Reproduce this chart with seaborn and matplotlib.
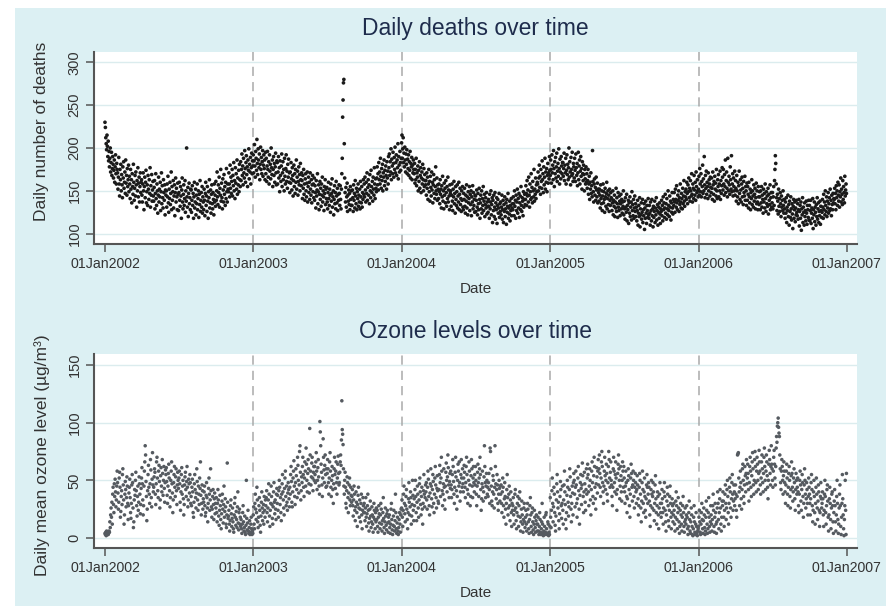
import numpy as np
import pandas as pd
import matplotlib
matplotlib.use("Agg")
import matplotlib.pyplot as plt
import seaborn as sns
from matplotlib.patches import Rectangle

# ---------------- data (one list per year, one row per month) ----------------
deaths_2002 = [
    230,224,212,205,198,215,202,190,208,185,196,178,188,200,172,183,195,168,176,190,181,165,174,186,160,178,192,170,158,182,175,
    171,152,166,189,158,144,175,163,181,150,169,157,142,178,165,184,153,160,172,147,186,159,168,145,176,155,163,180,
    149,167,158,141,175,152,163,136,170,155,146,181,160,139,153,168,144,172,157,131,162,150,177,143,159,166,137,155,171,148,160,
    163,145,137,158,171,150,128,155,166,142,160,174,136,149,157,133,168,152,140,163,147,177,131,156,145,169,138,151,161,144,
    138,154,162,129,147,170,141,133,158,150,124,145,166,137,152,143,160,127,149,171,135,156,142,130,163,148,139,157,122,151,145,
    150,131,158,143,167,136,125,152,141,160,134,147,172,128,155,139,149,162,130,144,157,121,148,165,137,153,143,128,159,146,
    127,148,160,139,132,155,144,118,151,165,137,129,146,157,133,141,162,125,150,138,200,143,131,154,120,147,159,135,142,128,152,
    151,125,139,156,133,147,118,143,160,130,137,152,122,145,135,158,128,141,150,119,146,134,162,126,139,148,131,155,124,143,137,
    128,152,139,121,147,160,133,144,126,155,138,118,149,142,163,130,136,151,124,146,157,135,129,148,140,122,158,137,145,132,
    161,139,150,172,143,134,157,148,166,131,153,145,175,138,159,142,129,164,151,137,169,146,155,133,160,141,176,149,137,158,152,
    149,171,158,143,180,153,166,147,161,175,144,168,156,183,150,162,141,177,159,170,152,186,146,165,157,174,149,181,163,155,
    184,162,175,193,168,179,157,188,171,165,197,176,160,183,191,169,178,155,186,174,199,164,181,172,189,158,177,194,170,185,179,
]
deaths_2003 = [
    192,171,185,204,179,166,196,188,174,210,182,169,199,186,177,193,163,181,201,175,189,170,184,197,167,180,192,176,186,163,195,
    170,188,161,179,196,175,166,184,158,192,173,181,164,200,177,169,186,155,175,190,168,182,160,178,194,171,157,185,
    183,158,172,190,165,177,149,185,168,161,179,193,155,171,184,163,175,150,188,167,158,176,192,161,173,153,181,166,187,160,171,
    148,172,159,183,164,151,177,168,144,162,180,155,170,147,175,160,186,152,166,173,145,161,178,157,169,150,182,163,156,171,
    162,141,168,153,175,146,158,139,164,170,150,143,159,172,137,155,166,148,160,140,171,152,145,163,136,157,168,149,158,142,165,
    139,156,148,130,162,144,151,170,135,149,157,128,146,161,140,153,132,158,145,166,137,150,143,127,155,147,163,134,152,141,
    154,137,129,148,160,141,133,152,145,125,158,138,147,164,131,143,150,122,140,156,135,148,129,161,144,136,153,127,146,139,157,
    147,133,156,140,129,152,170,188,236,256,276,280,205,165,148,137,154,131,143,159,126,145,138,151,134,147,128,155,140,133,150,
    133,151,142,126,157,139,147,130,162,144,135,153,128,149,141,158,132,145,137,152,129,161,143,136,155,131,148,140,163,146,
    158,143,166,151,137,160,147,171,139,154,163,145,157,135,169,150,142,174,155,148,161,138,166,152,145,177,158,141,164,153,149,
    165,178,157,170,151,183,163,172,158,188,167,153,176,162,181,150,171,166,186,156,174,161,179,168,152,184,165,173,158,190,
    177,193,168,184,172,199,163,187,179,170,195,182,166,189,175,201,171,183,192,168,186,177,205,164,190,180,172,196,183,174,188,
]
deaths_2004 = [
    206,215,188,199,212,183,194,178,201,186,172,193,181,198,170,187,176,192,168,184,174,196,165,182,178,189,163,180,171,186,175,
    170,182,159,175,163,188,156,171,166,179,150,174,161,184,153,168,177,148,165,172,158,181,163,150,176,155,169,162,157,
    162,145,171,153,166,140,158,175,149,161,138,167,154,144,172,151,160,136,157,169,147,163,141,155,178,150,146,165,139,157,152,
    141,158,149,135,163,146,152,130,156,143,167,138,150,129,159,145,153,136,162,148,132,155,141,166,137,151,144,128,157,147,
    150,132,145,158,138,127,152,143,161,135,147,124,155,140,133,149,157,130,144,137,160,128,146,153,134,141,126,150,139,155,131,
    128,147,140,153,132,124,145,138,157,130,143,122,149,136,141,155,127,146,134,150,121,143,137,156,129,148,133,140,125,145,
    144,126,139,151,131,122,147,135,128,153,140,118,136,145,129,150,124,141,133,155,127,138,146,120,134,142,130,148,123,137,132,
    125,140,132,118,146,129,137,150,122,134,142,113,139,127,145,120,131,148,117,136,128,142,112,133,140,124,130,147,119,135,126,
    137,122,131,145,117,128,139,113,134,126,143,120,129,136,111,140,125,132,147,118,130,123,138,115,133,127,141,121,130,135,
    128,143,135,121,150,132,139,118,145,127,137,152,124,141,130,147,119,136,144,128,155,133,126,142,138,121,149,131,140,146,134,
    140,156,147,133,162,144,151,137,166,145,131,158,149,140,170,142,154,136,161,150,143,175,138,152,146,165,141,157,149,160,
    158,172,150,165,180,154,167,146,175,161,153,185,163,170,148,178,157,166,188,152,172,160,176,149,168,182,159,171,164,190,174,
]
deaths_2005 = [
    168,186,175,159,192,171,180,163,197,176,155,184,170,189,165,178,194,161,173,182,167,199,176,158,187,172,164,190,179,170,183,
    183,167,176,194,162,180,171,188,158,174,192,169,181,163,177,200,166,184,172,157,189,175,168,195,170,161,182,178,
    165,188,174,161,193,177,168,182,156,171,195,163,179,186,158,173,190,167,176,152,184,170,162,180,169,150,175,164,158,178,160,
    170,153,162,175,146,158,167,140,160,152,171,147,156,143,197,161,149,137,158,164,145,154,139,166,151,143,159,136,152,148,
    138,152,145,130,157,141,135,150,127,144,158,136,149,140,125,153,143,132,147,160,129,141,150,134,145,126,152,139,133,148,142,
    141,127,136,150,122,139,132,145,120,137,130,153,126,142,135,119,148,131,127,144,138,121,135,146,129,140,124,137,132,150,
    122,138,129,117,142,131,125,146,115,133,128,139,112,136,124,143,120,131,137,116,149,127,134,121,140,118,130,144,126,135,120,
    131,115,127,139,110,124,133,120,142,108,129,122,136,117,125,140,113,128,121,135,105,130,118,138,124,112,133,127,119,141,122,
    118,133,124,110,137,127,115,140,121,129,108,132,119,126,138,113,130,122,142,116,127,134,110,125,131,118,136,123,112,129,
    126,139,121,133,115,143,128,136,119,130,146,124,135,117,141,129,122,150,133,127,120,144,131,138,116,136,125,148,130,123,140,
    133,148,137,125,152,140,131,156,136,128,145,139,150,126,142,134,158,137,130,147,141,129,153,135,144,162,138,132,149,143,
    152,140,160,147,135,157,149,165,142,153,138,162,150,144,170,146,137,158,153,141,168,151,145,160,139,172,155,148,163,150,143,
]
deaths_2006 = [
    152,167,145,176,158,149,170,143,161,155,180,147,164,150,190,157,142,168,153,173,146,160,155,141,171,150,163,158,144,166,154,
    148,165,153,140,172,157,146,161,138,167,152,159,144,175,150,141,163,155,169,143,158,150,173,140,162,147,156,177,
    166,151,175,158,145,169,155,186,148,162,172,153,143,188,160,150,167,157,146,178,163,152,191,149,158,170,144,165,155,150,173,
    145,162,153,138,168,150,143,160,135,156,173,147,140,163,151,137,158,166,143,153,134,161,148,144,167,139,155,150,133,159,
    139,155,146,130,160,143,136,152,128,148,141,163,134,150,144,131,157,138,146,153,129,142,159,135,150,137,128,155,143,134,149,
    143,128,150,136,155,131,145,140,124,152,137,147,130,158,141,126,149,135,144,132,153,123,146,139,134,157,128,142,148,131,
    136,148,129,143,155,133,162,175,191,182,158,142,127,146,138,123,152,132,141,126,148,135,120,144,131,139,127,150,133,124,140,
    129,118,137,124,142,113,131,127,145,120,134,110,138,126,119,143,129,116,135,123,106,132,140,118,128,137,114,130,122,139,125,
    121,135,117,128,140,109,126,133,118,137,104,129,122,142,113,131,125,110,136,120,127,115,138,124,111,133,128,119,139,116,
    133,115,127,139,112,124,130,118,141,106,128,122,137,114,131,125,110,134,120,142,117,129,136,113,126,121,138,111,132,127,119,
    125,140,131,118,146,128,137,122,150,133,126,143,120,138,130,148,124,135,142,127,152,129,139,121,145,134,128,147,136,141,
    140,153,135,147,128,156,142,150,133,160,145,138,157,131,149,143,165,137,152,146,134,162,140,155,148,136,167,144,151,158,147,
]

ozone_2002 = [
    4,3,5,2,6,4,3,5,3,4,6,5,14,9,20,26,18,31,12,38,44,29,22,47,36,51,40,27,33,45,58,
    48,39,25,31,52,57,44,18,23,36,41,29,55,60,46,33,12,20,38,49,42,27,35,53,45,30,16,28,
    39,44,51,35,22,17,30,46,55,48,26,9,14,33,42,37,50,57,41,28,19,36,45,24,31,53,47,38,21,29,43,
    52,61,47,33,20,28,45,58,66,80,72,49,36,15,25,41,55,63,44,38,30,47,68,59,35,27,51,74,46,40,
    44,53,60,57,38,29,47,66,70,52,41,35,58,63,49,26,33,54,61,45,40,68,56,37,50,62,43,31,48,59,55,
    61,49,37,30,45,56,64,52,41,27,35,50,58,66,47,39,22,33,48,55,62,44,36,53,60,41,29,46,57,50,
    43,52,58,47,31,24,40,55,61,38,45,50,34,20,29,46,53,57,42,36,49,62,44,27,33,51,47,39,55,48,30,
    36,28,44,51,40,22,18,31,47,55,42,35,26,39,60,49,33,24,45,38,29,52,43,66,37,20,30,46,41,25,34,
    31,40,45,28,19,22,37,48,35,26,14,30,43,52,38,24,33,60,41,27,18,25,36,42,29,16,34,39,21,30,
    26,35,22,14,30,42,33,19,11,24,37,28,16,8,21,32,38,25,13,29,45,18,23,34,27,12,9,20,65,31,17,
    19,24,12,6,15,28,33,21,10,17,26,14,8,5,20,30,35,18,11,23,16,9,27,40,13,7,22,25,12,18,
    10,16,8,4,12,22,28,14,6,9,19,5,3,11,50,17,7,13,24,6,4,9,15,3,5,12,18,8,3,6,4,
]
ozone_2003 = [
    20,27,12,8,30,38,25,16,22,44,33,14,9,18,28,35,24,11,5,19,31,40,26,15,22,29,12,36,24,18,33,
    28,35,41,22,14,26,33,47,38,19,10,24,30,45,36,29,17,12,27,40,48,31,21,33,25,16,38,43,
    30,37,24,18,41,50,44,29,35,22,15,38,47,55,40,33,26,20,43,52,58,36,28,45,31,24,39,48,42,34,27,
    44,38,55,62,49,31,27,40,52,58,67,45,36,29,48,60,54,42,35,70,63,50,39,46,75,80,57,33,41,53,
    48,62,70,55,44,36,52,66,58,45,78,64,50,40,56,68,60,47,39,95,72,58,46,53,65,70,52,41,57,62,50,
    62,55,48,66,74,58,42,50,61,68,53,45,38,101,92,80,64,57,46,36,52,86,70,59,48,63,72,55,44,60,
    45,56,68,60,48,38,52,66,74,58,44,36,50,62,54,42,30,47,60,70,55,43,58,66,48,38,52,64,71,56,46,
    48,57,66,72,63,85,119,94,90,81,60,45,38,50,57,44,30,26,41,53,48,35,22,39,46,52,33,28,44,37,31,
    36,42,28,19,33,45,38,24,15,27,40,31,22,10,29,37,44,26,18,33,25,14,30,38,20,8,24,35,28,22,
    30,22,15,26,35,18,10,21,28,38,24,13,6,17,25,32,19,9,14,27,20,12,5,18,30,24,16,8,22,14,26,
    16,24,10,5,18,28,21,13,8,20,30,25,12,6,15,22,35,17,9,4,14,26,19,11,7,21,24,13,5,18,
    14,20,9,4,12,25,30,16,7,3,11,19,24,10,6,15,38,22,8,4,13,18,6,3,9,16,22,12,5,20,25,
]
ozone_2004 = [
    26,33,18,10,24,38,45,30,21,14,28,36,42,25,16,8,22,34,48,31,20,27,40,35,12,19,29,50,37,24,15,
    34,28,42,50,36,22,15,31,45,38,26,18,33,47,52,40,29,20,36,44,25,12,30,41,55,38,27,35,46,
    40,48,33,25,44,58,51,36,28,20,39,47,60,45,34,27,42,55,49,30,22,38,52,62,46,35,26,43,54,41,32,
    30,42,55,63,48,36,52,70,58,41,28,38,47,60,44,33,25,45,57,65,50,40,53,72,61,46,35,49,56,43,
    58,46,35,42,55,68,62,49,38,30,44,57,70,53,41,25,36,50,64,58,45,66,48,32,40,55,68,52,44,60,47,
    40,52,63,57,44,35,48,62,70,55,42,30,38,50,66,58,46,28,36,54,68,60,45,35,52,62,48,40,55,46,
    62,50,38,28,45,57,64,48,36,52,60,70,55,42,24,34,47,58,44,32,40,53,80,62,48,35,45,56,50,38,44,
    36,48,56,42,30,78,75,60,45,32,28,40,54,50,38,26,44,80,62,47,34,42,55,46,30,24,38,50,43,32,45,
    38,46,30,22,40,52,44,28,18,34,48,36,25,12,30,42,55,35,20,26,38,45,28,15,33,40,22,10,30,24,
    28,35,20,12,24,38,42,26,15,8,22,30,36,19,10,28,34,40,18,6,14,25,32,20,12,5,16,26,30,14,9,
    18,24,12,6,20,30,25,14,8,4,16,28,35,20,10,5,22,26,14,7,3,12,24,18,9,5,15,20,12,6,
    12,18,6,3,10,22,16,5,3,8,14,30,12,4,2,6,18,10,3,5,20,22,8,3,4,14,12,2,5,3,10,
]
ozone_2005 = [
    35,18,9,24,41,52,30,14,27,44,38,22,11,6,19,33,47,55,40,26,31,15,8,21,36,49,42,28,17,30,45,
    24,12,33,46,58,40,29,16,8,22,37,50,44,31,19,27,42,60,53,36,25,14,30,45,39,20,48,56,
    50,38,27,44,58,46,30,18,34,52,62,41,25,12,37,48,55,43,29,46,65,54,36,22,40,57,47,31,24,42,60,
    38,52,64,55,40,28,45,60,50,33,20,42,58,66,48,36,30,54,70,62,44,34,25,47,61,53,39,58,68,46,
    60,72,56,44,36,52,66,75,62,48,40,30,45,58,70,54,42,50,64,56,38,32,48,62,75,68,52,44,57,66,50,
    46,36,28,44,60,70,58,48,40,55,66,52,38,24,42,56,64,72,60,50,34,45,62,54,40,32,50,66,58,44,
    62,52,40,30,45,58,48,36,22,34,50,60,54,42,28,18,38,52,64,56,44,32,46,58,50,36,26,44,56,48,40,
    30,42,54,46,34,20,28,44,56,50,38,26,14,32,48,58,42,30,22,40,52,36,24,18,34,46,55,44,30,38,48,
    44,32,20,10,28,42,50,38,26,36,48,40,24,15,30,46,54,34,22,12,28,40,36,20,8,26,38,48,30,22,
    18,30,42,34,22,12,26,40,48,36,24,14,6,20,32,44,38,28,15,10,24,36,45,30,18,8,22,34,28,14,20,
    30,24,12,6,18,32,40,28,16,8,22,35,26,14,4,10,24,30,20,12,6,18,28,36,22,10,5,14,26,16,
    12,20,28,18,8,3,10,22,32,16,6,4,14,26,20,10,3,2,8,18,28,14,5,3,12,22,10,4,2,6,8,
]
ozone_2006 = [
    10,18,24,14,5,3,12,22,30,16,8,4,15,26,20,9,3,6,18,32,24,12,4,8,22,35,18,10,5,14,28,
    20,12,6,16,28,38,24,10,5,18,30,22,12,4,14,26,40,30,16,8,22,34,42,26,12,6,18,32,
    28,40,32,18,10,24,38,46,30,16,26,42,50,36,22,12,30,44,52,40,26,18,34,48,55,38,24,32,46,40,28,
    34,46,38,24,18,36,72,73,74,52,40,28,44,58,48,34,25,42,60,64,50,36,30,46,62,54,40,56,68,47,
    52,64,56,42,32,48,62,70,58,44,36,54,66,74,60,46,38,50,68,75,62,48,40,58,70,64,50,42,56,76,66,
    58,46,38,52,66,72,60,48,40,56,70,78,62,50,42,58,72,66,54,44,34,50,64,76,68,56,46,62,80,64,
    60,50,44,58,70,76,64,52,46,62,78,88,83,97,100,104,96,91,88,72,60,48,42,58,68,62,50,38,54,66,58,
    48,40,30,46,58,64,52,38,28,44,56,62,50,36,26,42,54,66,56,44,32,40,52,60,48,34,24,42,56,50,38,
    44,52,40,28,22,38,50,58,46,32,24,42,55,48,36,18,30,46,60,50,38,26,34,48,42,30,20,36,52,44,
    38,30,20,34,48,55,42,28,14,24,40,50,36,22,12,30,44,52,38,26,16,32,46,40,24,10,22,36,48,34,26,
    30,40,34,20,10,24,38,50,36,22,12,28,42,46,32,18,6,20,34,44,30,16,8,26,38,40,28,14,4,22,
    32,42,28,14,6,20,36,50,30,16,4,12,26,38,46,28,10,3,18,30,55,34,20,8,2,16,28,50,24,3,56,
]

years = [2002, 2003, 2004, 2005, 2006]
tick_years = [2002, 2003, 2004, 2005, 2006, 2007]
tick_labels = ["01Jan2002", "01Jan2003", "01Jan2004", "01Jan2005", "01Jan2006", "01Jan2007"]
deaths_ticks = [100, 150, 200, 250, 300]
ozone_ticks = [0, 50, 100, 150]

titles = ["Daily deaths over time", "Ozone levels over time"]
ylabels = ["Daily number of deaths", "Daily mean ozone level (\u00b5g/m\u00b3)"]


def build(lists):
    frames = []
    for yr, vals in zip(years, lists):
        d = pd.date_range(f"{yr}-01-01", periods=len(vals), freq="D")
        frames.append(pd.DataFrame({"date": d, "value": vals}))
    df = pd.concat(frames, ignore_index=True)
    return df[df["date"] < pd.Timestamp("2007-01-01")]


deaths_df = build([deaths_2002, deaths_2003, deaths_2004, deaths_2005, deaths_2006])
ozone_df = build([ozone_2002, ozone_2003, ozone_2004, ozone_2005, ozone_2006])

# ---------------- style ----------------
sns.set_theme(style="white")
plt.rcParams["font.family"] = ["Liberation Sans", "DejaVu Sans"]

BG = "#dcf0f3"
AXC = "#555555"
TXT = "#333333"
TITLE_C = "#1e2c4c"

W, H = 886, 606
fig = plt.figure(figsize=(W / 100, H / 100), dpi=100)
fig.patch.set_facecolor("white")
fig.add_artist(Rectangle((15 / W, 0), (W - 15) / W, (H - 8) / H,
                         transform=fig.transFigure, facecolor=BG,
                         edgecolor="none", zorder=0))


def px_axes(left, top, right, bottom):
    return fig.add_axes([left / W, 1 - bottom / H, (right - left) / W, (bottom - top) / H])


ax1 = px_axes(94, 52, 857, 244)
ax2 = px_axes(94, 354, 857, 548)

xmin = pd.Timestamp("2002-01-01") - pd.Timedelta(days=27)
xmax = pd.Timestamp("2007-01-01") + pd.Timedelta(days=25)

panels = [
    (ax1, deaths_df, "#1a1a1a", 7, (88, 312), deaths_ticks, 52, 244),
    (ax2, ozone_df, "#555a60", 6.5, (-8.7, 159.6), ozone_ticks, 354, 548),
]

for i, (ax, df, col, size, ylim, yt, top, bottom) in enumerate(panels):
    ax.set_facecolor("white")
    sns.scatterplot(data=df, x="date", y="value", ax=ax, color=col, s=size,
                    linewidth=0, edgecolor="none", zorder=3, legend=False)
    for yr in tick_years[1:-1]:
        ax.axvline(pd.Timestamp(f"{yr}-01-01"), color="#a9a9a9", lw=1.1,
                   dashes=(6, 4), zorder=2)
    ax.set_xlim(xmin, xmax)
    ax.set_ylim(*ylim)
    ax.set_yticks(yt)
    ax.set_xticks([pd.Timestamp(f"{y}-01-01") for y in tick_years])
    ax.set_xticklabels(tick_labels)
    ax.yaxis.grid(True, color="#dbecee", lw=1.0)
    ax.xaxis.grid(False)
    ax.set_axisbelow(True)
    for s in ["top", "right"]:
        ax.spines[s].set_visible(False)
    for s in ["left", "bottom"]:
        ax.spines[s].set_color(AXC)
        ax.spines[s].set_linewidth(1.5)
    ax.tick_params(axis="both", which="major", direction="out", length=6, width=1.1,
                   color=AXC, labelcolor=TXT, pad=3, bottom=True, left=True)
    ax.tick_params(axis="x", labelsize=10.2)
    ax.tick_params(axis="y", labelsize=10.5, labelrotation=90)
    for lbl in ax.get_yticklabels():
        lbl.set_va("center")
    ax.set_xlabel("Date", fontsize=11, color=TXT)
    ax.xaxis.set_label_coords(0.5, (bottom - (289 if i == 0 else 593)) / (bottom - top))
    ax.xaxis.label.set_va("center")
    ax.set_ylabel(ylabels[i], fontsize=12.5, color=TXT)
    ax.yaxis.label.set_va("center")
    ax.yaxis.label.set_ha("center")
    ycen = 131 if i == 0 else 455
    ax.yaxis.set_label_coords((42 - 94) / (857 - 94), (bottom - ycen) / (bottom - top))
    fig.text(475.5 / W, 1 - (29 if i == 0 else 331) / H, titles[i], ha="center",
             va="center", fontsize=16.5, color=TITLE_C)

fig.savefig("out.png", dpi=100, facecolor=fig.get_facecolor())
